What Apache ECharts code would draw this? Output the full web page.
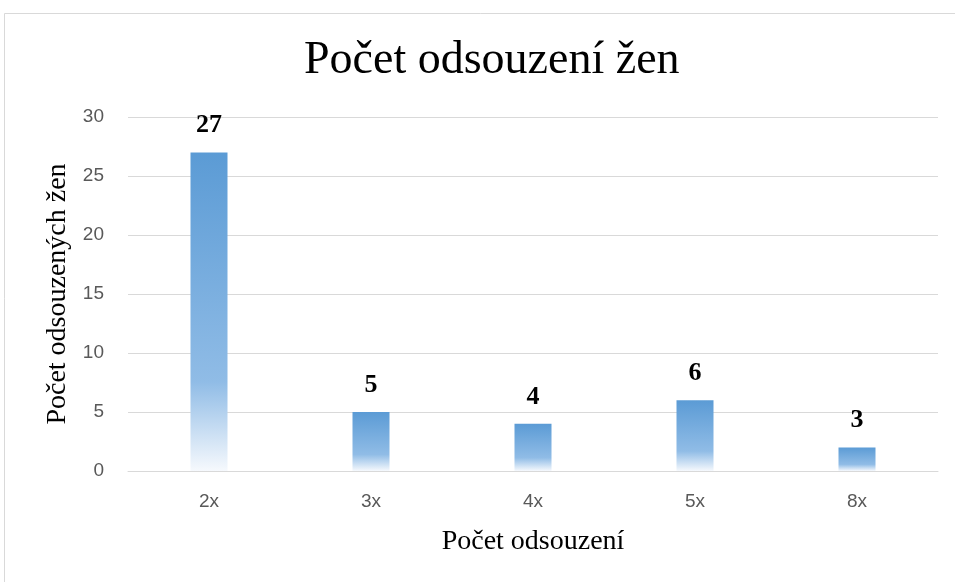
<!DOCTYPE html>
<html>
<head>
<meta charset="utf-8">
<script src="https://cdn.jsdelivr.net/npm/echarts@6/dist/echarts.min.js"></script>
<style>
  html, body { margin: 0; padding: 0; background: #fff; }
  #chart { width: 955px; height: 582px; }
</style>
</head>
<body>
<div id="chart"></div>
<script>
// data
const categories = ['2x', '3x', '4x', '5x', '8x'];
const counts = [27, 5, 4, 6, 2];
// labels as printed above the bars (last one reads 3 in the original)
const barLabels = ['27', '5', '4', '6', '3'];
const yTicks = [0, 5, 10, 15, 20, 25, 30];

const chart = echarts.init(document.getElementById('chart'));

const option = {
  animation: false,
  backgroundColor: '#fff',
  graphic: [{
    type: 'rect',
    shape: { x: 4.5, y: 13.5, width: 1000, height: 620 },
    style: { fill: 'none', stroke: '#d9d9d9', lineWidth: 1 },
    silent: true
  }],
  title: {
    text: 'Počet odsouzení žen',
    left: 299,
    top: 33,
    textStyle: { fontFamily: 'Liberation Serif', fontSize: 46, fontWeight: 'normal', color: '#000' }
  },
  grid: { left: 128, right: 17, top: 117, bottom: 111 },
  xAxis: {
    type: 'category',
    data: categories,
    name: 'Počet odsouzení',
    nameLocation: 'middle',
    nameGap: 57,
    nameTextStyle: { fontFamily: 'Liberation Serif', fontSize: 28, color: '#000' },
    axisLine: { lineStyle: { color: '#d9d9d9', width: 1 } },
    axisTick: { show: false },
    axisLabel: { margin: 21, fontFamily: 'Liberation Sans', fontSize: 19, color: '#595959' }
  },
  yAxis: {
    type: 'value',
    min: 0,
    max: 30,
    interval: 5,
    name: 'Počet odsouzených žen',
    nameLocation: 'middle',
    nameGap: 54,
    nameTextStyle: { fontFamily: 'Liberation Serif', fontSize: 28, color: '#000' },
    axisLine: { show: false },
    axisTick: { show: false },
    splitLine: { lineStyle: { color: '#d9d9d9', width: 1 } },
    axisLabel: {
      margin: 24, fontFamily: 'Liberation Sans', fontSize: 19, color: '#595959',
      formatter: function (v) { return yTicks.indexOf(v) >= 0 ? String(v) : ''; }
    }
  },
  series: [{
    type: 'bar',
    data: counts,
    barWidth: 37,
    itemStyle: {
      color: new echarts.graphic.LinearGradient(0, 0, 0, 1, [
        { offset: 0, color: '#5b9bd5' },
        { offset: 0.72, color: '#90bce6' },
        { offset: 1, color: '#f6f9fd' }
      ])
    },
    label: {
      show: true,
      position: 'top',
      distance: 14,
      fontFamily: 'Liberation Serif',
      fontSize: 26,
      fontWeight: 'bold',
      color: '#000',
      formatter: function (p) { return barLabels[p.dataIndex]; }
    }
  }]
};

chart.setOption(option);
</script>
</body>
</html>
